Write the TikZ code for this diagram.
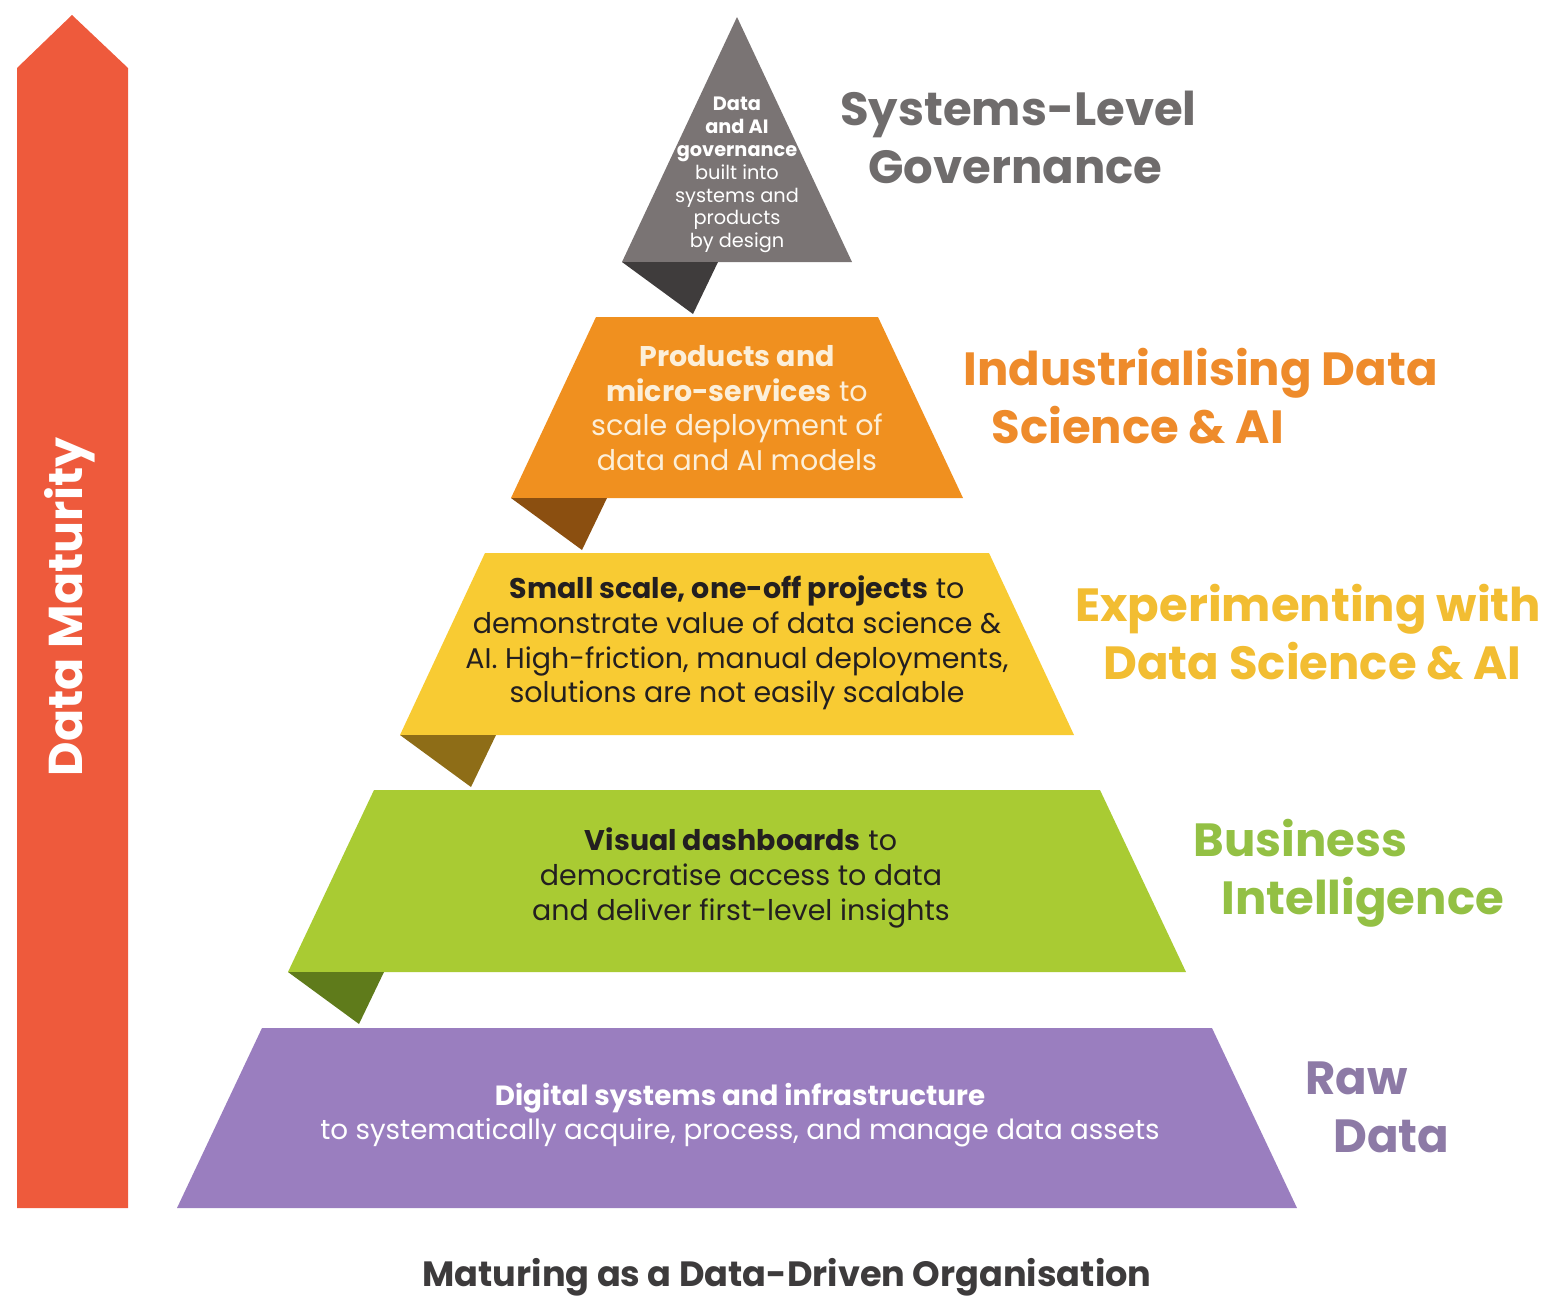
\documentclass[tikz,border=0pt]{standalone}
\usepackage{fontspec}
\setmainfont{Poppins}
\usetikzlibrary{positioning}

\definecolor{maturered}{HTML}{EE5A3C}
\definecolor{govgray}{HTML}{7A7474}
\definecolor{govfold}{HTML}{3F3C3C}
\definecolor{govlabel}{HTML}{6F6C6C}
\definecolor{indorange}{HTML}{F0901F}
\definecolor{indfold}{HTML}{8B4F10}
\definecolor{indlabel}{HTML}{EE8B2B}
\definecolor{indtext}{HTML}{FCEFD9}
\definecolor{expyellow}{HTML}{F8CB33}
\definecolor{expfold}{HTML}{8E6D17}
\definecolor{explabel}{HTML}{F2BD32}
\definecolor{bigreen}{HTML}{A9CB33}
\definecolor{bifold}{HTML}{5F7B1B}
\definecolor{bilabel}{HTML}{93C044}
\definecolor{rawpurple}{HTML}{9A7EBF}
\definecolor{rawlabel}{HTML}{8D7AA6}
\definecolor{darktext}{HTML}{231F20}
\definecolor{footgray}{HTML}{3D3B3C}

\begin{document}
\begin{tikzpicture}[
            x=0.02cm, y=-0.02cm,
            stage/.style={anchor=west, align=left, inner sep=0pt,
                font=\bfseries\fontsize{26.5}{33}\selectfont},
            bandtext/.style={align=center, inner sep=0pt,
                font=\fontsize{16.2}{19.7}\selectfont}
        ]
        \useasboundingbox (0,0) rectangle (1559,1299);

        % maturity arrow
        \fill[maturered] (17,1208) -- (17,68) -- (72,15) -- (128,68) -- (128,1208) -- cycle;
        \node[rotate=90, text=white, font=\bfseries\fontsize{27}{32}\selectfont] (maturity) at (70,607) {Data Maturity};

        % pyramid bands with their folds
        \fill[govgray] (737,17) -- (852,262) -- (622,262) -- cycle;
        \fill[govfold] (622,262) -- (718,262) -- (693,314) -- cycle;
        \fill[indorange] (596,317) -- (878,317) -- (963,498) -- (511,498) -- cycle;
        \fill[indfold] (511,498) -- (607,498) -- (582,550) -- cycle;
        \fill[expyellow] (485,553) -- (989,553) -- (1074,735) -- (400,735) -- cycle;
        \fill[expfold] (400,735) -- (496,735) -- (471,787) -- cycle;
        \fill[bigreen] (374,790) -- (1100,790) -- (1186,972) -- (288,972) -- cycle;
        \fill[bifold] (288,972) -- (384,972) -- (359,1024) -- cycle;
        \fill[rawpurple] (262,1028) -- (1212,1028) -- (1297,1208) -- (177,1208) -- cycle;

        % texts inside the bands
        \node[bandtext, text=white, font=\fontsize{11}{13}\selectfont] (govtext) at (737,175)
            {\textbf{Data}\\\textbf{and AI}\\\textbf{governance}\\built into\\systems and\\products\\by design};
        \node[bandtext, text=indtext] (indtext) at (737,408)
            {\textbf{Products and}\\\textbf{micro-services} to\\scale deployment of\\data and AI models};
        \node[bandtext, text=darktext] (exptext) at (737,643)
            {\textbf{Small scale, one-off projects} to\\demonstrate value of data science \&\\AI. High-friction, manual deployments,\\solutions are not easily scalable};
        \node[bandtext, text=darktext] (bitext) at (741,878)
            {\textbf{Visual dashboards} to\\democratise access to data\\and deliver first-level insights};
        \node[bandtext, text=white, font=\fontsize{15.8}{19.7}\selectfont] (rawtext) at (740,1115)
            {\textbf{Digital systems and infrastructure}\\to systematically acquire, process, and manage data assets};

        % stage names
        \node[stage, text=govlabel] (govlabel) at (840,137) {Systems-Level\\\hspace*{16pt}Governance};
        \node[stage, text=indlabel] (indlabel) at (963,396) {Industrialising Data\\\hspace*{16pt}Science \& AI};
        \node[stage, text=explabel] (explabel) at (1075,632) {Experimenting with\\\hspace*{16pt}Data Science \& AI};
        \node[stage, text=bilabel] (bilabel) at (1193,873) {Business\\\hspace*{16pt}Intelligence};
        \node[stage, text=rawlabel] (rawlabel) at (1305,1107) {Raw\\\hspace*{16pt}Data};

        \node[anchor=base, text=footgray, font=\bfseries\fontsize{20}{24}\selectfont] (caption) at (787,1286)
            {Maturing as a Data-Driven Organisation};
    \end{tikzpicture}
\end{document}
